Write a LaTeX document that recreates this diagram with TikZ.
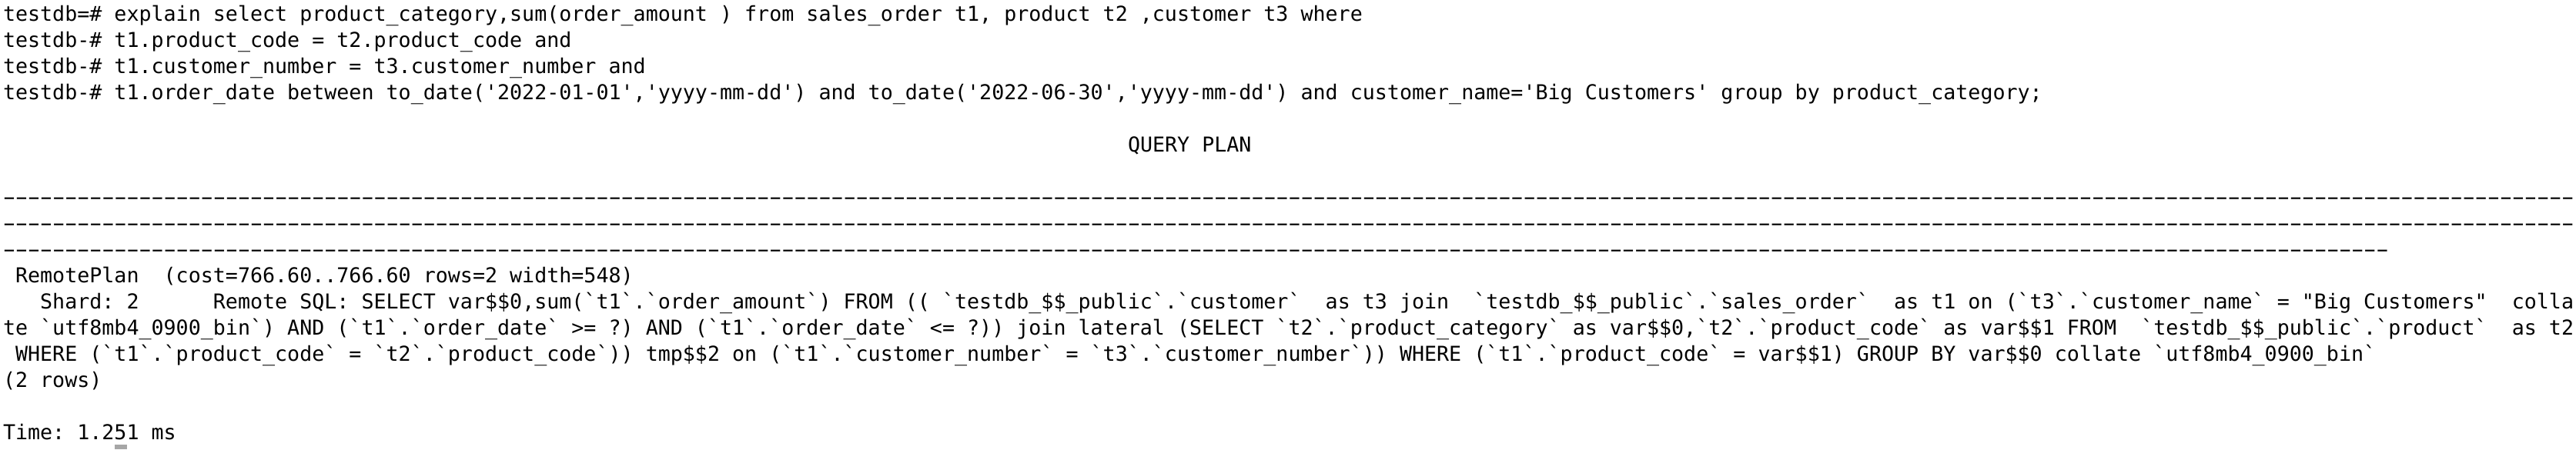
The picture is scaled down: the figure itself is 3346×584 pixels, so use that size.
\documentclass[tikz,border=0pt]{standalone}
\usepackage{fontspec}
\usepackage{graphicx}
\newfontfamily\term[Ligatures=TeXOff]{DejaVu Sans Mono}
\newcommand\termfont{\term\fontsize{8pt}{9.6pt}\selectfont\frenchspacing}
\newlength\cw
\newcommand\dsh{\makebox[\cw][c]{\scalebox{1.8}[1]{-}}}
\ExplSyntaxOn
\cs_new:Npn \dashrun #1 { \prg_replicate:nn {#1} { \dsh } }
\ExplSyntaxOff
\newcommand\dashes[1]{\settowidth{\cw}{0}\dashrun{#1}}
\definecolor{cursorgray}{HTML}{A6A6A6}
\begin{document}
\begin{tikzpicture}[x=0.3pt,y=-0.3pt,
  line/.style={anchor=base west,inner sep=0pt,outer sep=0pt,font=\termfont,text=black}]
\fill[white] (0,0) rectangle (3346,584);
\useasboundingbox (0,0) rectangle (3346,584);
% psql input
\node[line] (r0) at (4,27.5) {testdb=\# explain select product\_category,sum(order\_amount ) from sales\_order t1, product t2 ,customer t3 where};
\node[line] (r1) at (4,61.5) {testdb-\# t1.product\_code = t2.product\_code and};
\node[line] (r2) at (4,95.5) {testdb-\# t1.customer\_number = t3.customer\_number and};
\node[line] (r3) at (4,129.5) {testdb-\# t1.order\_date between to\_date('2022-01-01','yyyy-mm-dd') and to\_date('2022-06-30','yyyy-mm-dd') and customer\_name='Big Customers' group by product\_category;};
% header
\node[line] (r5) at (1465,197.5) {QUERY PLAN};
% separator
\node[line] (r7) at (4,265.5) {\dashes{208}};
\node[line] (r8) at (4,299.5) {\dashes{208}};
\node[line] (r9) at (4,333.5) {\dashes{193}};
% plan
\node[line] (r10) at (4,367.5) {~RemotePlan~ (cost=766.60..766.60 rows=2 width=548)};
\node[line] (r11) at (4,401.5) {~~~Shard: 2~~~~~~Remote SQL: SELECT var\$\$0,sum(`t1`.`order\_amount`) FROM (( `testdb\_\$\$\_public`.`customer`~ as t3 join~ `testdb\_\$\$\_public`.`sales\_order`~ as t1 on (`t3`.`customer\_name` = "Big Customers"~ colla};
\node[line] (r12) at (4,435.5) {te `utf8mb4\_0900\_bin`) AND (`t1`.`order\_date` >= ?) AND (`t1`.`order\_date` <= ?)) join lateral (SELECT `t2`.`product\_category` as var\$\$0,`t2`.`product\_code` as var\$\$1 FROM~ `testdb\_\$\$\_public`.`product`~ as t2};
\node[line] (r13) at (4,469.5) {~WHERE (`t1`.`product\_code` = `t2`.`product\_code`)) tmp\$\$2 on (`t1`.`customer\_number` = `t3`.`customer\_number`)) WHERE (`t1`.`product\_code` = var\$\$1) GROUP BY var\$\$0 collate `utf8mb4\_0900\_bin`};
\node[line] (r14) at (4,503.5) {(2 rows)};
\node[line] (r16) at (4,571.5) {Time: 1.251 ms};
% cursor
\fill[cursorgray] (148.5,578) rectangle (164.5,584);
\end{tikzpicture}
\end{document}
